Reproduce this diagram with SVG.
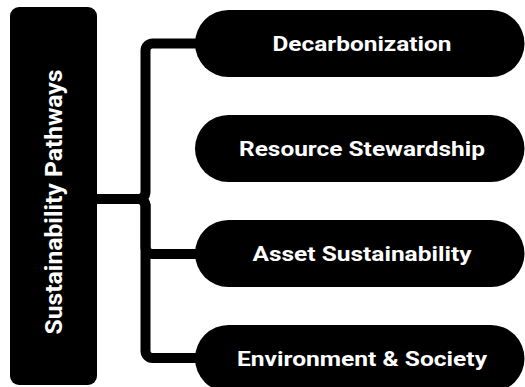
<svg xmlns="http://www.w3.org/2000/svg" width="525" height="387" viewBox="0 0 525 387">
  <style>
    .node-shape { fill: #000000; }
    .label { fill: #ffffff; font-family: Roboto, "Liberation Sans", sans-serif; font-weight: 700; text-anchor: middle; }
    .pill-label { font-size: 21px; }
    .root-label { font-size: 24px; }
    .link { fill: none; stroke: #000000; stroke-width: 10; stroke-linejoin: round; }
  </style>
  <rect width="525" height="387" fill="#ffffff"/>

  <!-- connectors from the root bar to the pathway pills -->
  <g id="connectors">
    <path class="link" d="M97,199 H138.5 A7,7 0 0 0 145.5,192 V50.5 A7,7 0 0 1 152.5,43.5 H200"/>
    <path class="link" d="M97,199 H138.5 A7,7 0 0 1 145.5,206 V247 A7,7 0 0 0 152.5,254 H200"/>
    <path class="link" d="M97,199 H138.5 A7,7 0 0 1 145.5,206 V351 A7,7 0 0 0 152.5,358 H200"/>
  </g>

  <!-- root -->
  <g id="sustainability-pathways">
    <rect class="node-shape" x="10" y="7" width="87" height="378" rx="9"/>
    <text class="label root-label" transform="translate(62,202) rotate(-90)" textLength="265" lengthAdjust="spacingAndGlyphs">Sustainability Pathways</text>
  </g>

  <!-- pathways -->
  <g id="decarbonization">
    <rect class="node-shape" x="195" y="10" width="329.5" height="67" rx="33.5"/>
    <text class="label pill-label" x="362" y="51" textLength="179" lengthAdjust="spacingAndGlyphs">Decarbonization</text>
  </g>
  <g id="resource-stewardship">
    <rect class="node-shape" x="195" y="115" width="329.5" height="67" rx="33.5"/>
    <text class="label pill-label" x="362" y="156" textLength="246" lengthAdjust="spacingAndGlyphs">Resource Stewardship</text>
  </g>
  <g id="asset-sustainability">
    <rect class="node-shape" x="195" y="220" width="329.5" height="67" rx="33.5"/>
    <text class="label pill-label" x="362" y="261" textLength="219" lengthAdjust="spacingAndGlyphs">Asset Sustainability</text>
  </g>
  <g id="environment-society">
    <rect class="node-shape" x="195" y="325" width="329.5" height="67" rx="33.5"/>
    <text class="label pill-label" x="362" y="366" textLength="250" lengthAdjust="spacingAndGlyphs">Environment &amp; Society</text>
  </g>
</svg>
